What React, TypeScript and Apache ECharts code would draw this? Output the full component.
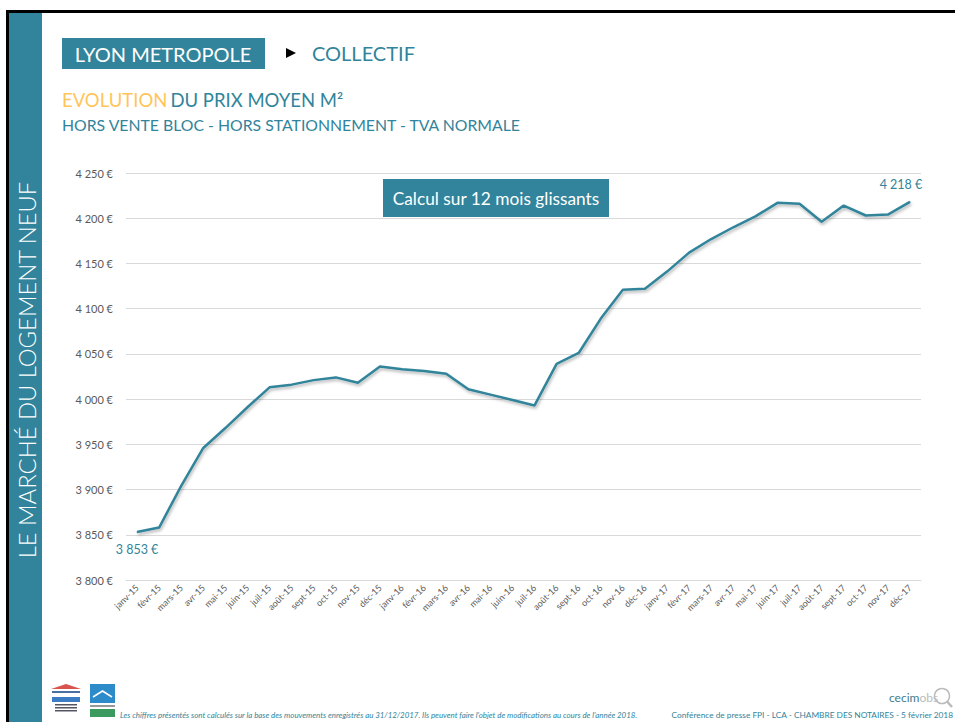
import React, { useEffect, useRef } from "react";
import * as echarts from "echarts";

const categories: string[] = [
  "janv-15", "févr-15", "mars-15", "avr-15", "mai-15", "juin-15", "juil-15", "août-15", "sept-15", "oct-15", "nov-15", "déc-15",
  "janv-16", "févr-16", "mars-16", "avr-16", "mai-16", "juin-16", "juil-16", "août-16", "sept-16", "oct-16", "nov-16", "déc-16",
  "janv-17", "févr-17", "mars-17", "avr-17", "mai-17", "juin-17", "juil-17", "août-17", "sept-17", "oct-17", "nov-17", "déc-17",
];

const prixMoyen: number[] = [
  3853, 3858, 3904, 3946, 3968, 3991, 4013, 4016, 4021, 4024, 4018, 4036,
  4033, 4031, 4028, 4011, 4005, 3999, 3993, 4039, 4051, 4089, 4121, 4122,
  4141, 4162, 4177, 4190, 4202, 4217, 4216, 4196, 4214, 4203, 4204, 4218,
];

const yMin = 3800;
const yMax = 4250;
const yStep = 50;

const TEAL = "#31849B";
const FONT = "Lato, 'Open Sans', sans-serif";

const fmt = (v: number) => {
  const s = Math.round(v).toString();
  return s.replace(/\B(?=(\d{3})+(?!\d))/g, " ") + " €";
};

export default function App() {
  const ref = useRef<HTMLDivElement>(null);
  useEffect(() => {
    if (!ref.current) return;
    const chart = echarts.init(ref.current, undefined, { renderer: "svg" });
    const last = prixMoyen.length - 1;
    const seriesData = prixMoyen.map((v, i) => {
      if (i === 0) {
        return { value: v, label: { show: true, position: "bottom", distance: 10 } };
      }
      if (i === last) {
        return { value: v, label: { show: true, position: "top", distance: 10, offset: [-9, 0] } };
      }
      return { value: v };
    });

    chart.setOption({
      animation: false,
      backgroundColor: "#ffffff",
      textStyle: { fontFamily: FONT },
      grid: { left: 126, right: 34, top: 173, bottom: 142, containLabel: false },
      xAxis: {
        type: "category",
        data: categories,
        boundaryGap: true,
        axisLine: { show: true, lineStyle: { color: "#D9D9D9", width: 1 } },
        axisTick: { show: false },
        axisLabel: {
          interval: 0,
          rotate: 45,
          fontSize: 9,
          color: "#595959",
          fontFamily: FONT,
          margin: 6,
        },
      },
      yAxis: {
        type: "value",
        min: yMin,
        max: yMax,
        interval: yStep,
        axisLine: { show: false },
        axisTick: { show: false },
        splitLine: { show: true, lineStyle: { color: "#D9D9D9", width: 1 } },
        axisLabel: {
          formatter: (v: number) => fmt(v),
          fontSize: 11,
          color: "#595959",
          fontFamily: FONT,
          margin: 13,
        },
      },
      series: [
        {
          type: "line",
          data: seriesData,
          symbol: "circle",
          symbolSize: 1,
          showSymbol: true,
          itemStyle: { color: TEAL },
          lineStyle: {
            color: TEAL,
            width: 2.5,
            shadowColor: "rgba(0,0,0,0.3)",
            shadowBlur: 3,
            shadowOffsetX: 1,
            shadowOffsetY: 2,
          },
          label: {
            show: false,
            formatter: (p: any) => fmt(p.value),
            color: TEAL,
            fontSize: 12.5,
            fontFamily: FONT,
          },
        },
      ],
      graphic: [
        // frame
        { type: "rect", shape: { x: 6, y: 10, width: 949, height: 3 }, style: { fill: "#000" } },
        { type: "rect", shape: { x: 6, y: 10, width: 3, height: 712 }, style: { fill: "#000" } },
        { type: "rect", shape: { x: 9, y: 13, width: 33, height: 709 }, style: { fill: TEAL } },
        {
          type: "text",
          x: 27,
          y: 370,
          rotation: Math.PI / 2,
          style: {
            text: "LE MARCHÉ DU LOGEMENT NEUF",
            fill: "#fff",
            fontSize: 23.8,
            fontWeight: 300,
            fontFamily: FONT,
            align: "center",
            verticalAlign: "middle",
          },
        },
        // header
        { type: "rect", shape: { x: 62, y: 38, width: 203, height: 31 }, style: { fill: TEAL } },
        {
          type: "text",
          x: 163,
          y: 54,
          style: { text: "LYON METROPOLE", fill: "#fff", fontSize: 20, fontFamily: FONT, align: "center", verticalAlign: "middle" },
        },
        {
          type: "polygon",
          shape: { points: [[286, 48], [296, 53], [286, 58]] },
          style: { fill: "#000" },
        },
        {
          type: "text",
          x: 312,
          y: 53,
          style: { text: "COLLECTIF", fill: TEAL, fontSize: 20, fontFamily: FONT, align: "left", verticalAlign: "middle" },
        },
        {
          type: "text",
          x: 62,
          y: 100,
          style: {
            text: "{o|EVOLUTION} {t|DU PRIX MOYEN M²}",
            fontFamily: FONT,
            align: "left",
            verticalAlign: "middle",
            rich: {
              o: { fill: "#FFC55A", fontSize: 18.5, fontFamily: FONT },
              t: { fill: TEAL, fontSize: 18.5, fontFamily: FONT },
            },
          },
        },
        {
          type: "text",
          x: 62,
          y: 124,
          style: {
            text: "HORS VENTE BLOC - HORS STATIONNEMENT - TVA NORMALE",
            fill: TEAL,
            fontSize: 15.8,
            fontFamily: FONT,
            align: "left",
            verticalAlign: "middle",
          },
        },
        // callout
        { type: "rect", shape: { x: 383, y: 179, width: 226, height: 38 }, style: { fill: TEAL } },
        {
          type: "text",
          x: 496,
          y: 198,
          style: { text: "Calcul sur 12 mois glissants", fill: "#fff", fontSize: 17.3, fontFamily: FONT, align: "center", verticalAlign: "middle" },
        },
        // footer logos (approximate)
        { type: "polygon", shape: { points: [[51, 689], [66, 684], [81, 689]] }, style: { fill: "#D9534F" } },
        { type: "rect", shape: { x: 52, y: 691, width: 28, height: 2 }, style: { fill: "#4A6FA5" } },
        { type: "rect", shape: { x: 52, y: 697, width: 28, height: 5 }, style: { fill: "#3B7CC4" } },
        { type: "rect", shape: { x: 55, y: 704, width: 22, height: 1.5 }, style: { fill: "#556" } },
        { type: "rect", shape: { x: 55, y: 707, width: 22, height: 1.5 }, style: { fill: "#556" } },
        { type: "rect", shape: { x: 55, y: 710, width: 22, height: 1.5 }, style: { fill: "#556" } },
        { type: "rect", shape: { x: 90, y: 684, width: 25, height: 19 }, style: { fill: "#2E8BC9" } },
        { type: "polyline", shape: { points: [[93, 697], [102.5, 691], [112, 697]] }, style: { stroke: "#fff", lineWidth: 1.5, fill: "none" } },
        { type: "rect", shape: { x: 90, y: 705, width: 25, height: 2 }, style: { fill: "#999" } },
        { type: "rect", shape: { x: 90, y: 709, width: 25, height: 8 }, style: { fill: "#3C9A5F" } },
        {
          type: "text",
          x: 120,
          y: 715,
          style: {
            text: "Les chiffres présentés sont calculés sur la base des mouvements enregistrés au 31/12/2017. Ils peuvent faire l'objet de modifications au cours de l'année 2018.",
            fill: TEAL,
            fontSize: 7.9,
            fontStyle: "italic",
            fontFamily: FONT,
            align: "left",
            verticalAlign: "middle",
          },
        },
        {
          type: "text",
          x: 953,
          y: 715,
          style: {
            text: "Conférence de presse FPI - LCA - CHAMBRE DES NOTAIRES - 5 février 2018",
            fill: TEAL,
            fontSize: 8.3,
            fontFamily: FONT,
            align: "right",
            verticalAlign: "middle",
          },
        },
        {
          type: "text",
          x: 889,
          y: 697,
          style: {
            text: "{a|cecim}{b|obs}",
            align: "left",
            verticalAlign: "middle",
            rich: {
              a: { fill: "#3F7C8C", fontSize: 12, fontFamily: FONT },
              b: { fill: "#BBBBBB", fontSize: 12, fontFamily: FONT },
            },
          },
        },
        { type: "circle", shape: { cx: 942, cy: 696, r: 7.5 }, style: { fill: "none", stroke: "#BBBBBB", lineWidth: 1.5 } },
        { type: "line", shape: { x1: 947, y1: 701.5, x2: 952, y2: 707 }, style: { stroke: "#BBBBBB", lineWidth: 2.5 } },
      ],
    });
    return () => chart.dispose();
  }, []);
  return (
    <div
      ref={ref}
      style={{ position: "absolute", left: 0, top: 0, width: 955, height: 722 }}
    />
  );
}
